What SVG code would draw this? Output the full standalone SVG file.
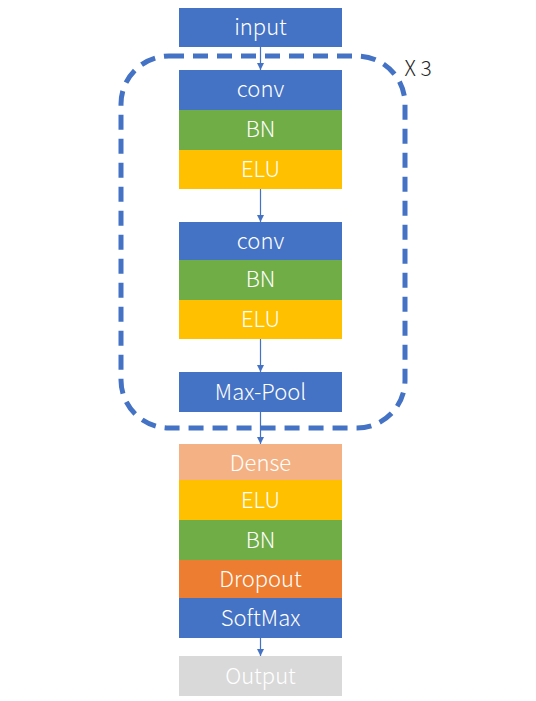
<svg xmlns="http://www.w3.org/2000/svg" width="536" height="701" viewBox="0 0 536 701">
<style>
text{font-family:"Noto Sans CJK SC","Open Sans",sans-serif;font-size:22px;font-weight:300;fill:#fff;text-anchor:middle}
.b{fill:#4472C4}.g{fill:#70AD47}.y{fill:#FFC000}.o{fill:#ED7D31}.p{fill:#F4B183}.gr{fill:#D9D9D9}
.c{stroke:#4472C4;stroke-width:1.2;fill:none;marker-end:url(#ah)}
</style>
<defs>
<marker id="ah" viewBox="0 0 10 10" refX="10" refY="5" markerWidth="7" markerHeight="7" markerUnits="userSpaceOnUse" orient="auto"><path d="M0,0L10,5L0,10z" fill="#4472C4"/></marker>
</defs>
<rect width="536" height="701" fill="#fff"/>
<g id="loop">
<rect x="121" y="56" width="284" height="372" rx="48" fill="none" stroke="#4472C4" stroke-width="5" stroke-dasharray="15 9"/>
<text x="418" y="76" style="fill:#262626;font-size:21px">X 3</text>
</g>
<g id="input"><rect class="b" x="179" y="8" width="163" height="39"/><text x="260.5" y="35">input</text></g>
<g id="block1">
<rect class="b" x="179" y="70" width="163" height="40"/><text x="260.5" y="97">conv</text>
<rect class="g" x="179" y="110" width="163" height="40"/><text x="260.5" y="137">BN</text>
<rect class="y" x="179" y="150" width="163" height="39"/><text x="260.5" y="177">ELU</text>
</g>
<g id="block2">
<rect class="b" x="179" y="222" width="163" height="38"/><text x="260.5" y="249">conv</text>
<rect class="g" x="179" y="260" width="163" height="40"/><text x="260.5" y="287">BN</text>
<rect class="y" x="179" y="300" width="163" height="39"/><text x="260.5" y="327">ELU</text>
</g>
<g id="maxpool"><rect class="b" x="179" y="372" width="163" height="40"/><text x="260.5" y="400">Max-Pool</text></g>
<g id="head">
<rect class="p" x="179" y="444" width="163" height="36"/><text x="260.5" y="471">Dense</text>
<rect class="y" x="179" y="480" width="163" height="40"/><text x="260.5" y="508">ELU</text>
<rect class="g" x="179" y="520" width="163" height="40"/><text x="260.5" y="548">BN</text>
<rect class="o" x="179" y="560" width="163" height="38"/><text x="260.5" y="587">Dropout</text>
<rect class="b" x="179" y="598" width="163" height="40"/><text x="260.5" y="626">SoftMax</text>
</g>
<g id="output"><rect class="gr" x="179" y="656" width="163" height="40"/><text x="260.5" y="684">Output</text></g>
<g id="connectors">
<line class="c" x1="260.5" y1="47" x2="260.5" y2="70"/>
<line class="c" x1="260.5" y1="189" x2="260.5" y2="222"/>
<line class="c" x1="260.5" y1="339" x2="260.5" y2="372"/>
<line class="c" x1="260.5" y1="412" x2="260.5" y2="444"/>
<line class="c" x1="260.5" y1="638" x2="260.5" y2="656"/>
</g>
</svg>
